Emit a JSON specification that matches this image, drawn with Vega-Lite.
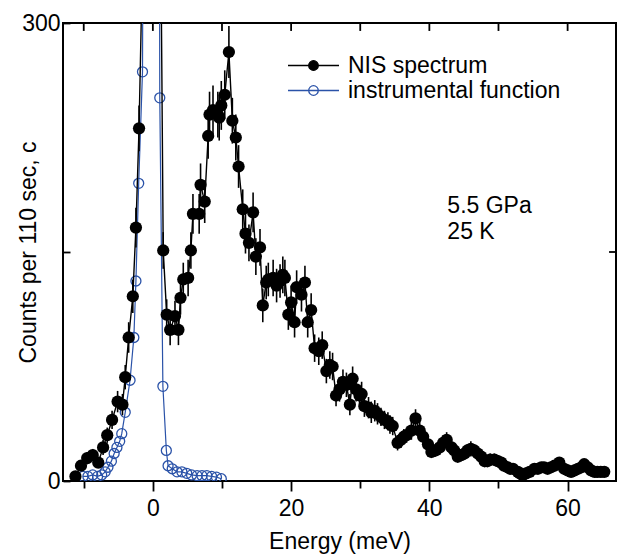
{
  "$schema": "https://vega.github.io/schema/vega-lite/v6.json",
  "autosize": {"type": "none"},
  "width": 553,
  "height": 458,
  "padding": {"left": 63, "top": 23, "right": 1, "bottom": 77},
  "background": "white",
  "config": {
    "view": {"stroke": "black", "strokeWidth": 2},
    "font": "Liberation Sans",
    "axis": {"domain": false, "grid": false, "labelFont": "Liberation Sans", "titleFont": "Liberation Sans", "labelFontSize": 23, "titleFontSize": 23, "titleFontWeight": "normal", "labelColor": "black", "titleColor": "black", "tickColor": "black", "tickWidth": 1.8}
  },
  "datasets": {
    "ticks": [{"e": -10}, {"e": 0}, {"e": 10}, {"e": 20}, {"e": 30}, {"e": 40}, {"e": 50}, {"e": 60}],
    "nis": [
      {"e": -11.2, "c": 3, "err": 2}, {"e": -10.4, "c": 10, "err": 3}, {"e": -9.5, "c": 15, "err": 4}, {"e": -8.7, "c": 17, "err": 4}, {"e": -7.9, "c": 12, "err": 3},
      {"e": -7.2, "c": 22, "err": 5}, {"e": -6.6, "c": 30, "err": 5}, {"e": -5.9, "c": 40, "err": 6}, {"e": -5.1, "c": 52, "err": 7}, {"e": -4.4, "c": 50, "err": 7},
      {"e": -4.0, "c": 68, "err": 8}, {"e": -3.5, "c": 94, "err": 10}, {"e": -2.9, "c": 121, "err": 11}, {"e": -2.45, "c": 166, "err": 13}, {"e": -2.0, "c": 231, "err": 15},
      {"e": -1.55, "c": 330}, {"e": -1.1, "c": 900}, {"e": -0.6, "c": 2500}, {"e": -0.1, "c": 4000}, {"e": 0.4, "c": 2500}, {"e": 0.9, "c": 500},
      {"e": 1.5, "c": 151, "err": 12}, {"e": 2.0, "c": 109, "err": 10}, {"e": 2.5, "c": 99, "err": 10}, {"e": 3.2, "c": 108, "err": 10}, {"e": 3.7, "c": 99, "err": 10},
      {"e": 4.0, "c": 120, "err": 11}, {"e": 4.4, "c": 132, "err": 11}, {"e": 5.1, "c": 133, "err": 12}, {"e": 5.5, "c": 151, "err": 12}, {"e": 5.8, "c": 175, "err": 13},
      {"e": 6.7, "c": 175, "err": 13}, {"e": 6.9, "c": 194, "err": 14}, {"e": 7.5, "c": 183, "err": 14}, {"e": 8.0, "c": 226, "err": 15}, {"e": 8.2, "c": 240, "err": 15},
      {"e": 8.7, "c": 243, "err": 16}, {"e": 9.4, "c": 240, "err": 15}, {"e": 9.6, "c": 238, "err": 15}, {"e": 9.9, "c": 246, "err": 16}, {"e": 10.4, "c": 253, "err": 16},
      {"e": 11.0, "c": 281, "err": 17}, {"e": 11.5, "c": 236, "err": 15}, {"e": 12.0, "c": 225, "err": 15}, {"e": 12.4, "c": 206, "err": 14}, {"e": 13.0, "c": 178, "err": 13},
      {"e": 13.4, "c": 162, "err": 13}, {"e": 13.9, "c": 156, "err": 12}, {"e": 14.5, "c": 176, "err": 13}, {"e": 14.9, "c": 147, "err": 12}, {"e": 15.5, "c": 153, "err": 12},
      {"e": 15.9, "c": 115, "err": 11}, {"e": 16.4, "c": 130, "err": 11}, {"e": 16.7, "c": 132, "err": 11}, {"e": 17.4, "c": 133, "err": 12}, {"e": 17.9, "c": 128, "err": 11},
      {"e": 18.4, "c": 131, "err": 11}, {"e": 18.8, "c": 135, "err": 12}, {"e": 19.1, "c": 133, "err": 12}, {"e": 19.6, "c": 109, "err": 10}, {"e": 20.0, "c": 117, "err": 11},
      {"e": 20.5, "c": 104, "err": 10}, {"e": 20.8, "c": 127, "err": 11}, {"e": 21.5, "c": 122, "err": 11}, {"e": 22.0, "c": 130, "err": 11}, {"e": 22.4, "c": 104, "err": 10},
      {"e": 22.9, "c": 112, "err": 11}, {"e": 23.4, "c": 87, "err": 9}, {"e": 24.0, "c": 85, "err": 9}, {"e": 24.5, "c": 89, "err": 9}, {"e": 25.1, "c": 72, "err": 8},
      {"e": 25.6, "c": 76, "err": 9}, {"e": 26.0, "c": 75, "err": 9}, {"e": 26.5, "c": 56, "err": 7}, {"e": 27.0, "c": 60, "err": 8}, {"e": 27.5, "c": 65, "err": 8},
      {"e": 28.0, "c": 63, "err": 8}, {"e": 28.5, "c": 50, "err": 7}, {"e": 28.9, "c": 67, "err": 8}, {"e": 29.4, "c": 60, "err": 8}, {"e": 29.9, "c": 56, "err": 7},
      {"e": 30.2, "c": 57, "err": 8}, {"e": 30.6, "c": 49, "err": 7}, {"e": 31.2, "c": 48, "err": 7}, {"e": 31.6, "c": 45, "err": 7}, {"e": 32.1, "c": 46, "err": 7},
      {"e": 32.5, "c": 44, "err": 7}, {"e": 33.0, "c": 42, "err": 6}, {"e": 33.5, "c": 40, "err": 6}, {"e": 34.0, "c": 39, "err": 6}, {"e": 34.3, "c": 37, "err": 6},
      {"e": 34.7, "c": 36, "err": 6}, {"e": 35.4, "c": 25, "err": 5}, {"e": 35.9, "c": 27, "err": 5}, {"e": 36.3, "c": 29, "err": 5}, {"e": 36.7, "c": 30, "err": 5},
      {"e": 37.4, "c": 33, "err": 6}, {"e": 38.0, "c": 41, "err": 6}, {"e": 38.6, "c": 33, "err": 6}, {"e": 39.1, "c": 29, "err": 5}, {"e": 39.8, "c": 24, "err": 5},
      {"e": 40.3, "c": 19, "err": 4}, {"e": 40.9, "c": 20, "err": 4}, {"e": 41.5, "c": 22, "err": 5}, {"e": 42.0, "c": 25, "err": 5}, {"e": 42.5, "c": 27, "err": 5},
      {"e": 43.2, "c": 22, "err": 5}, {"e": 43.6, "c": 20, "err": 4}, {"e": 44.1, "c": 16, "err": 4}, {"e": 44.6, "c": 17, "err": 4}, {"e": 45.1, "c": 18, "err": 4},
      {"e": 45.5, "c": 20, "err": 4}, {"e": 46.0, "c": 21, "err": 5}, {"e": 46.5, "c": 20, "err": 4}, {"e": 47.0, "c": 18, "err": 4}, {"e": 47.5, "c": 16, "err": 4},
      {"e": 48.0, "c": 13, "err": 4}, {"e": 48.4, "c": 13, "err": 4}, {"e": 48.8, "c": 14, "err": 4}, {"e": 49.4, "c": 14, "err": 4}, {"e": 49.9, "c": 13, "err": 4},
      {"e": 50.4, "c": 12, "err": 3}, {"e": 50.8, "c": 10, "err": 3}, {"e": 51.3, "c": 9, "err": 3}, {"e": 51.7, "c": 8, "err": 3}, {"e": 52.1, "c": 8, "err": 3},
      {"e": 52.8, "c": 6, "err": 2}, {"e": 53.1, "c": 5, "err": 2}, {"e": 53.5, "c": 4, "err": 2}, {"e": 54.0, "c": 5, "err": 2}, {"e": 54.5, "c": 6, "err": 2},
      {"e": 55.2, "c": 8, "err": 3}, {"e": 55.7, "c": 8, "err": 3}, {"e": 56.2, "c": 9, "err": 3}, {"e": 56.6, "c": 9, "err": 3}, {"e": 57.1, "c": 8, "err": 3},
      {"e": 57.6, "c": 9, "err": 3}, {"e": 58.1, "c": 10, "err": 3}, {"e": 58.8, "c": 12, "err": 3}, {"e": 59.5, "c": 8, "err": 3}, {"e": 60.0, "c": 7, "err": 3},
      {"e": 60.5, "c": 6, "err": 2}, {"e": 61.0, "c": 7, "err": 3}, {"e": 61.5, "c": 8, "err": 3}, {"e": 62.0, "c": 9, "err": 3}, {"e": 62.4, "c": 11, "err": 3},
      {"e": 62.9, "c": 9, "err": 3}, {"e": 63.4, "c": 7, "err": 3}, {"e": 63.9, "c": 6, "err": 2}, {"e": 64.3, "c": 6, "err": 2}, {"e": 64.8, "c": 6, "err": 2},
      {"e": 65.3, "c": 6, "err": 2}
    ],
    "inst": [
      {"e": -10.1, "c": 3}, {"e": -9.4, "c": 3}, {"e": -8.7, "c": 4}, {"e": -8.0, "c": 3}, {"e": -7.4, "c": 4}, {"e": -6.9, "c": 6},
      {"e": -6.5, "c": 9}, {"e": -6.0, "c": 13}, {"e": -5.6, "c": 18}, {"e": -5.2, "c": 22}, {"e": -4.8, "c": 26}, {"e": -4.5, "c": 31},
      {"e": -4.0, "c": 45}, {"e": -3.3, "c": 66}, {"e": -2.75, "c": 94}, {"e": -2.45, "c": 131}, {"e": -2.05, "c": 195}, {"e": -1.5, "c": 268},
      {"e": -1.0, "c": 900}, {"e": -0.5, "c": 2500}, {"e": 0.0, "c": 3000}, {"e": 0.5, "c": 1500}, {"e": 1.0, "c": 251}, {"e": 1.45, "c": 62},
      {"e": 1.95, "c": 20}, {"e": 2.2, "c": 10}, {"e": 2.8, "c": 8}, {"e": 3.5, "c": 6}, {"e": 4.2, "c": 6}, {"e": 4.9, "c": 5},
      {"e": 5.6, "c": 4}, {"e": 6.4, "c": 3.5}, {"e": 7.1, "c": 3.5}, {"e": 7.8, "c": 3.5}, {"e": 8.5, "c": 3}, {"e": 9.2, "c": 2.5}, {"e": 9.9, "c": 1.5}
    ]
  },
  "layer": [
    {
      "data": {"name": "inst"},
      "mark": {"type": "line", "strokeWidth": 1.2, "clip": true},
      "encoding": {
        "x": {"field": "e", "type": "quantitative", "scale": {"domain": [-13, 67], "nice": false, "zero": false},
          "axis": {"orient": "bottom", "values": [-10, 0, 10, 20, 30, 40, 50, 60], "labelExpr": "datum.value % 20 === 0 ? datum.label : ''",
            "tickSize": {"condition": {"test": "datum.value % 20 === 0", "value": 10}, "value": 7}, "labelPadding": 6, "title": "Energy (meV)", "titlePadding": 10}},
        "y": {"field": "c", "type": "quantitative", "scale": {"domain": [0, 300], "nice": false},
          "axis": {"orient": "left", "values": [0, 150, 300], "labelExpr": "datum.value === 150 ? '' : datum.label", "tickSize": -7, "labelPadding": 10,
            "title": "Counts per 110 sec", "titleX": -28, "titleY": 229, "titleBaseline": "alphabetic", "titleAngle": -90}},
        "color": {"datum": "instrumental function", "type": "nominal",
          "scale": {"domain": ["NIS spectrum", "instrumental function"], "range": ["black", "#2a52a8"]},
          "legend": {"orient": "none", "legendX": 239, "legendY": 31, "title": null, "padding": 0,
            "symbolType": "M-2.55,0H2.55M-0.48,0A0.48,0.48,0,1,0,0.48,0A0.48,0.48,0,1,0,-0.48,0Z",
            "symbolSize": 400, "symbolStrokeWidth": 1.3, "labelFontSize": 23, "labelFont": "Liberation Sans", "labelOffset": 23, "rowPadding": 1,
            "labelColor": "black", "labelLimit": 500,
            "encode": {"symbols": {"update": {
              "fill": {"signal": "datum.value === 'NIS spectrum' ? 'black' : 'white'"},
              "fillOpacity": {"value": 1},
              "opacity": {"value": 1}}}}}}
      }
    },
    {
      "data": {"name": "ticks"},
      "mark": {"type": "rule", "color": "black", "strokeWidth": 1.8},
      "encoding": {
        "x": {"field": "e", "type": "quantitative"},
        "y": {"datum": 300, "type": "quantitative"},
        "y2": {"datum": 294.8}
      }
    },
    {
      "data": {"values": [{}]},
      "mark": {"type": "rule", "color": "black", "strokeWidth": 1.8},
      "encoding": {
        "x": {"datum": 67, "type": "quantitative"},
        "x2": {"datum": 66},
        "y": {"datum": 150, "type": "quantitative"}
      }
    },
    {
      "data": {"name": "inst"},
      "mark": {"type": "point", "filled": false, "size": 100, "strokeWidth": 1.3, "opacity": 1, "clip": true, "color": "#2a52a8"},
      "encoding": {
        "x": {"field": "e", "type": "quantitative"},
        "y": {"field": "c", "type": "quantitative"}
      }
    },
    {
      "data": {"name": "nis"},
      "mark": {"type": "line", "strokeWidth": 1.4, "clip": true},
      "encoding": {
        "x": {"field": "e", "type": "quantitative"},
        "y": {"field": "c", "type": "quantitative"},
        "color": {"datum": "NIS spectrum", "type": "nominal"}
      }
    },
    {
      "data": {"name": "nis"},
      "mark": {"type": "errorbar", "ticks": false, "thickness": 1.6, "clip": true},
      "encoding": {
        "x": {"field": "e", "type": "quantitative"},
        "y": {"field": "c", "type": "quantitative"},
        "yError": {"field": "err"},
        "color": {"value": "black"}
      }
    },
    {
      "data": {"name": "nis"},
      "mark": {"type": "point", "filled": true, "size": 150, "opacity": 1, "clip": true, "color": "black"},
      "encoding": {
        "x": {"field": "e", "type": "quantitative"},
        "y": {"field": "c", "type": "quantitative"}
      }
    },
    {
      "data": {"values": [{}]},
      "mark": {"type": "text", "text": ["5.5 GPa", "25 K"], "align": "left", "baseline": "alphabetic", "fontSize": 23, "font": "Liberation Sans", "lineHeight": 26, "color": "black"},
      "encoding": {
        "x": {"datum": 42.6, "type": "quantitative"},
        "y": {"datum": 175.5, "type": "quantitative"}
      }
    }
  ]
}
